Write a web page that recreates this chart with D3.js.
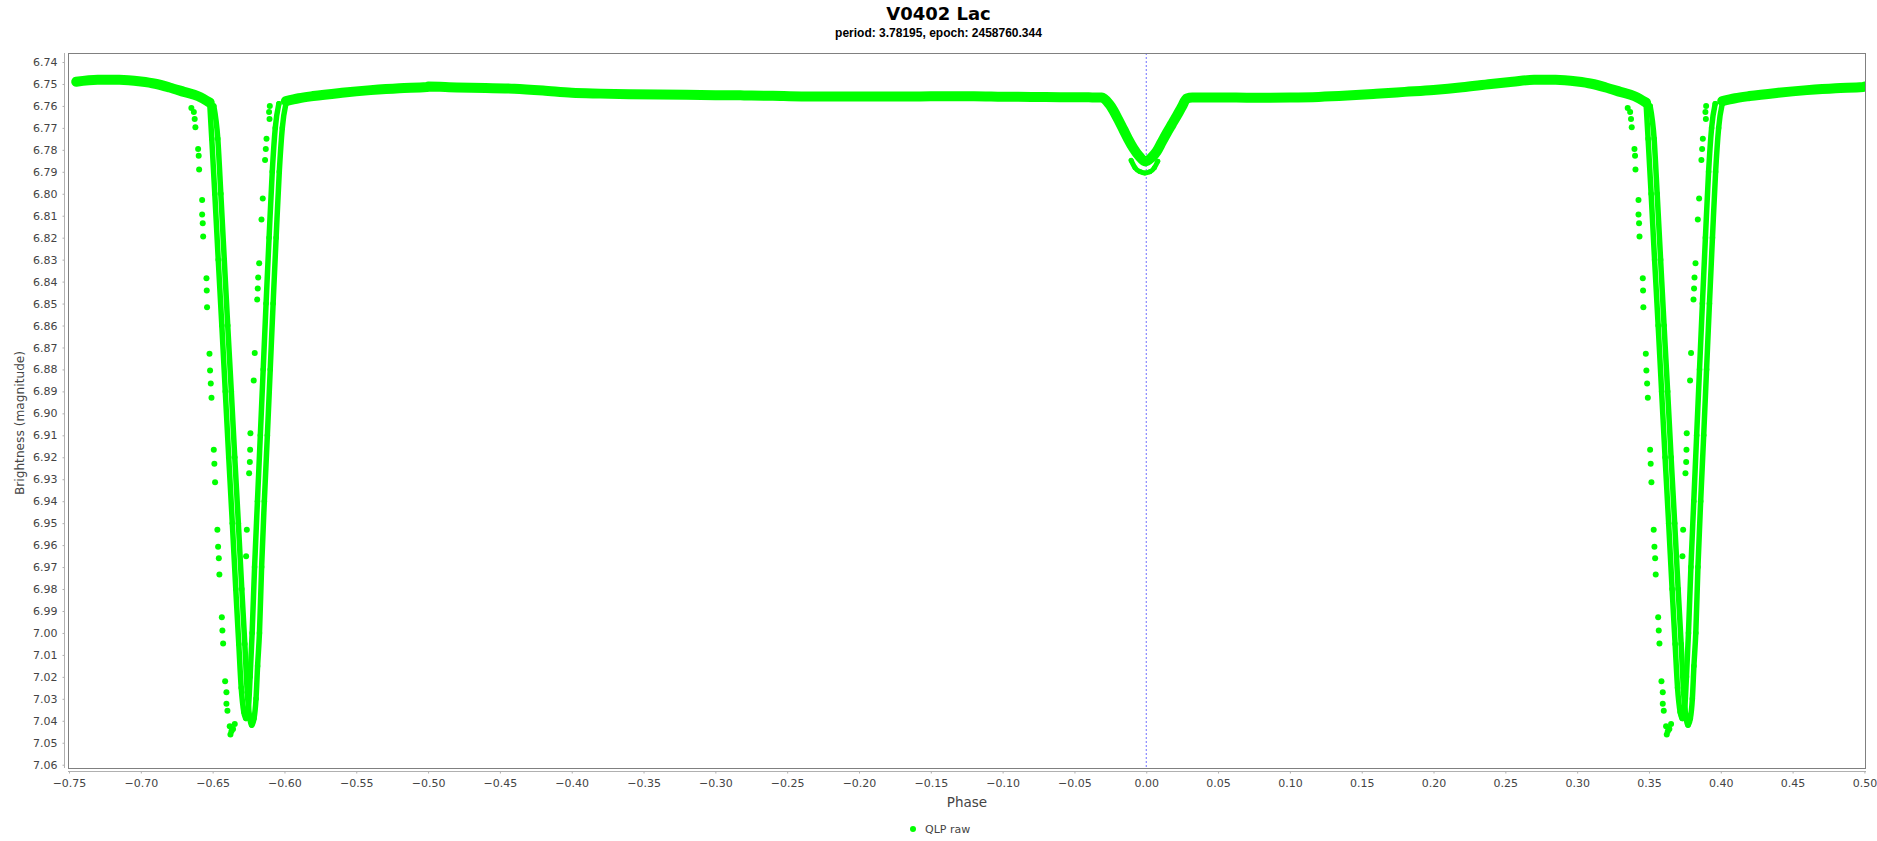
<!DOCTYPE html>
<html>
<head>
<meta charset="utf-8">
<script src="https://cdn.jsdelivr.net/npm/d3@7/dist/d3.min.js"></script>
<style>
  html, body { margin: 0; padding: 0; background: #ffffff; }
  svg { display: block; }
</style>
</head>
<body>
<svg id="chart" width="1877" height="841"></svg>
<script>
// ---------------- DATA ----------------
const titleText = "V0402 Lac";
const subtitleText = "period: 3.78195, epoch: 2458760.344";
const xLabelText = "Phase";
const yLabelText = "Brightness (magnitude)";
const seriesName = "QLP raw";

// one folded cycle, phase in [-0.5, 0.5): out-of-eclipse band incl. secondary eclipse
const bandPhase = [-0.50,-0.48,-0.46,-0.44,-0.42,-0.40,-0.38,-0.36,-0.34,-0.32,-0.30,-0.28,-0.26,-0.24,-0.22,-0.20,-0.18,-0.16,-0.14,-0.12,-0.10,-0.08,-0.06,-0.04,-0.031,
  -0.026,-0.0229,-0.0195,-0.0159,-0.0125,-0.009,-0.005,-0.0006,0.0035,0.0073,0.0108,0.0143,0.0178,0.0213,0.0248,0.0282,
  0.032,0.04,0.06,0.08,0.10,0.12,0.14,0.16,0.18,0.20,0.22,0.24,0.255,0.27,0.285,0.30,0.31,0.32,0.33,0.34,0.348,
  0.401,0.41,0.42,0.44,0.46,0.48,0.499];
const bandMag = [6.7512,6.7516,6.7518,6.7522,6.7530,6.7540,6.7544,6.7547,6.7548,6.7549,6.7551,6.7552,6.7554,6.7557,6.7557,6.7557,6.7557,6.7557,6.7556,6.7556,6.7558,6.7559,6.7560,6.7561,6.7562,
  6.7590,6.7620,6.7662,6.7708,6.7752,6.7792,6.7828,6.7853,6.7836,6.7807,6.7765,6.7723,6.7684,6.7645,6.7604,6.7566,
  6.7562,6.7562,6.7562,6.7563,6.7562,6.7559,6.7553,6.7545,6.7536,6.7527,6.7515,6.7500,6.7490,6.7481,6.7481,6.7489,6.7499,6.7516,6.7536,6.7556,6.7585,
  6.7578,6.7565,6.7555,6.7540,6.7528,6.7519,6.7514];

// primary eclipse, first sector track
const trackAPhase = [0.3480,0.3494,0.3515,0.3539,0.3564,0.3588,0.3612,0.3637,0.3661,0.3682,0.3699,0.3717,0.3731,
  0.3748,0.3761,0.3775,0.3792,0.3812,0.3832,0.3852,0.3872,0.3893,0.3915,0.3936,0.3961];
const trackAMag = [6.759,6.775,6.800,6.830,6.860,6.890,6.920,6.950,6.980,7.005,7.025,7.036,7.039,
  7.035,7.020,7.000,6.970,6.940,6.910,6.880,6.850,6.820,6.790,6.770,6.759];

// primary eclipse, second sector track
const trackBPhase = [0.3508,0.3536,0.3557,0.3581,0.3605,0.3630,0.3654,0.3679,0.3703,0.3724,0.3741,0.3757,0.3772,
  0.3788,0.3802,0.3813,0.3826,0.3841,0.3860,0.3881,0.3901,0.3921,0.3942,0.3964,0.3985,0.4010];
const trackBMag = [6.760,6.775,6.800,6.830,6.860,6.890,6.920,6.950,6.980,7.005,7.027,7.038,7.042,
  7.039,7.030,7.015,7.000,6.970,6.940,6.910,6.880,6.850,6.820,6.790,6.770,6.759];

// deeper arc at the bottom of the secondary eclipse
const secLowPhase = [-0.0105,-0.0078,-0.0045,-0.0010,0.0025,0.0056,0.0080];
const secLowMag = [6.7848,6.7882,6.7899,6.7905,6.7900,6.7882,6.7852];

// isolated points around the primary eclipse
const outlierPhase = [0.3352,0.3369,0.3375,0.3380,0.3399,0.3403,0.3406,0.3427,0.3427,0.3431,0.3434,0.3457,0.3459,0.3461,
  0.3478,0.3482,0.3487,0.3492,0.3508,0.3512,0.3517,0.3533,0.3538,0.3543,0.3547,0.3564,0.3568,0.3573,
  0.3587,0.3596,0.3596,0.3603,0.3619,0.3631,0.3624,0.3654,0.3642,
  0.3898,0.3893,0.3896,0.3875,0.3870,0.3865,0.3849,0.3840,0.3824,0.3817,0.3814,0.3810,0.3793,0.3786,
  0.3763,0.3761,0.3759,0.3754,0.3738,0.3733];
const outlierMag = [6.7610,6.7628,6.7660,6.7697,6.7796,6.7827,6.7890,6.8028,6.8095,6.8134,6.8195,6.8385,6.8441,6.8517,
  6.8729,6.8805,6.8864,6.8929,6.9166,6.9229,6.9314,6.9530,6.9608,6.9660,6.9734,6.9929,6.9989,7.0048,
  7.0220,7.0270,7.0322,7.0354,7.0425,7.0448,7.0463,7.0415,7.0437,
  6.7600,6.7628,6.7660,6.7749,6.7796,6.7846,6.8022,6.8117,6.8316,6.8381,6.8431,6.8482,6.8725,6.8850,
  6.9091,6.9166,6.9221,6.9273,6.9530,6.9651];

const xTicks = [-0.75,-0.70,-0.65,-0.60,-0.55,-0.50,-0.45,-0.40,-0.35,-0.30,-0.25,-0.20,-0.15,-0.10,-0.05,0.00,0.05,0.10,0.15,0.20,0.25,0.30,0.35,0.40,0.45,0.50];
const yTicks = [6.74,6.75,6.76,6.77,6.78,6.79,6.80,6.81,6.82,6.83,6.84,6.85,6.86,6.87,6.88,6.89,6.90,6.91,6.92,6.93,6.94,6.95,6.96,6.97,6.98,6.99,7.00,7.01,7.02,7.03,7.04,7.05,7.06];
const xDomain = [-0.7507, 0.5011];
const yDomain = [6.7359, 7.0615];
const markerPhase = 0;

// ---------------- LAYOUT ----------------
const W = 1877, H = 841;
const plot = { left: 68, top: 53, right: 1866, bottom: 768 };
const green = "#00ff00";
const textColor = "#444444";
const font = "'DejaVu Sans', sans-serif";

const svg = d3.select("#chart");
const x = d3.scaleLinear().domain(xDomain).range([plot.left, plot.right]);
const y = d3.scaleLinear().domain(yDomain).range([plot.top, plot.bottom]);

// phase folding: show each point at p-1, p, p+1 whenever it falls in view
function fold(ph, mg) {
  const out = [];
  ph.forEach((p, i) => {
    [p - 1, p, p + 1].forEach(q => {
      if (q >= xDomain[0] && q <= xDomain[1]) out.push([q, mg[i]]);
    });
  });
  return out.sort((a, b) => a[0] - b[0]);
}
function segments(pts, gap) {
  const segs = [];
  let cur = [];
  pts.forEach((pt, i) => {
    if (i > 0 && pt[0] - pts[i - 1][0] > gap) { segs.push(cur); cur = []; }
    cur.push(pt);
  });
  if (cur.length) segs.push(cur);
  return segs;
}

// titles
svg.append("text").attr("x", W / 2).attr("y", 20).attr("text-anchor", "middle")
  .attr("font-family", font).attr("font-weight", "bold").attr("font-size", 18)
  .attr("fill", "#000").text(titleText);
svg.append("text").attr("x", W / 2).attr("y", 37).attr("text-anchor", "middle")
  .attr("font-family", "'Liberation Sans', Arial, sans-serif").attr("font-weight", "bold").attr("font-size", 12)
  .attr("fill", "#000").text(subtitleText);

// plot background + clip
svg.append("rect").attr("x", plot.left).attr("y", plot.top)
  .attr("width", plot.right - plot.left).attr("height", plot.bottom - plot.top).attr("fill", "#fff");
svg.append("clipPath").attr("id", "clip").append("rect")
  .attr("x", plot.left).attr("y", plot.top)
  .attr("width", plot.right - plot.left).attr("height", plot.bottom - plot.top);

// marker at phase 0
svg.append("line").attr("x1", x(markerPhase)).attr("x2", x(markerPhase))
  .attr("y1", plot.top).attr("y2", plot.bottom)
  .attr("stroke", "#7070ff").attr("stroke-width", 1).attr("stroke-dasharray", "2,2");

const g = svg.append("g").attr("clip-path", "url(#clip)");

const line = d3.line().x(d => x(d[0])).y(d => y(d[1])).curve(d3.curveMonotoneX);

function drawSeries(ph, mg, width, r) {
  const pts = fold(ph, mg);
  segments(pts, 0.03).forEach(seg => {
    g.append("path").attr("d", line(seg)).attr("fill", "none").attr("stroke", green)
      .attr("stroke-width", width).attr("stroke-linejoin", "round").attr("stroke-linecap", "round");
  });
  g.selectAll(null).data(pts).enter().append("circle")
    .attr("cx", d => x(d[0])).attr("cy", d => y(d[1])).attr("r", r).attr("fill", green);
}

drawSeries(bandPhase, bandMag, 10, 3);
drawSeries(trackAPhase, trackAMag, 5.5, 2.75);
drawSeries(trackBPhase, trackBMag, 5.5, 2.75);
drawSeries(secLowPhase, secLowMag, 5, 2.5);

// isolated points
g.selectAll("circle.out").data(fold(outlierPhase, outlierMag)).enter().append("circle").attr("class", "out")
  .attr("cx", d => x(d[0])).attr("cy", d => y(d[1])).attr("r", 3).attr("fill", green);

// frame
svg.append("rect").attr("x", plot.left + 0.5).attr("y", plot.top + 0.5)
  .attr("width", plot.right - plot.left - 1).attr("height", plot.bottom - plot.top)
  .attr("fill", "none").attr("stroke", "#808080").attr("stroke-width", 1);

// y axis
const yAxis = d3.axisLeft(y).tickValues(yTicks).tickFormat(d3.format(".2f")).tickSize(2).tickPadding(5);
const ya = svg.append("g").attr("transform", `translate(${plot.left - 3.5},0)`).call(yAxis);
ya.select(".domain").attr("stroke", "#b0b0b0").attr("d", `M0,${plot.top}V${plot.bottom}`);
ya.selectAll(".tick line").attr("stroke", "#b0b0b0");
ya.selectAll(".tick text").attr("font-family", font).attr("font-size", 11).attr("fill", textColor);

// x axis
const xAxis = d3.axisBottom(x).tickValues(xTicks).tickFormat(d3.format(".2f")).tickSize(2).tickPadding(6);
const xa = svg.append("g").attr("transform", `translate(0,${plot.bottom + 3.5})`).call(xAxis);
xa.select(".domain").attr("stroke", "#b0b0b0").attr("d", `M${plot.left},0H${plot.right}`);
xa.selectAll(".tick line").attr("stroke", "#b0b0b0");
xa.selectAll(".tick text").attr("font-family", font).attr("font-size", 11).attr("fill", textColor);

// axis labels
svg.append("text").attr("x", (plot.left + plot.right) / 2).attr("y", 807).attr("text-anchor", "middle")
  .attr("font-family", font).attr("font-size", 13.5).attr("fill", textColor).text(xLabelText);
svg.append("text").attr("transform", `translate(24,423) rotate(-90)`)
  .attr("text-anchor", "middle").attr("font-family", font).attr("font-size", 12.2).attr("fill", textColor)
  .text(yLabelText);

// legend
svg.append("circle").attr("cx", 913).attr("cy", 829).attr("r", 3).attr("fill", green);
svg.append("text").attr("x", 925).attr("y", 833).attr("font-family", font).attr("font-size", 11)
  .attr("fill", textColor).text(seriesName);
</script>
</body>
</html>
